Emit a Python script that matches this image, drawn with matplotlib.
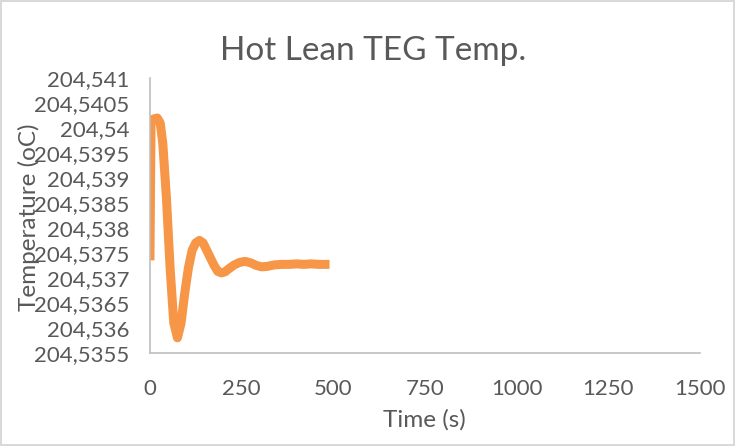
import numpy as np
import matplotlib
matplotlib.use("Agg")
import matplotlib.pyplot as plt
from matplotlib.ticker import FuncFormatter, MultipleLocator

plt.rcParams['font.family'] = ['Lato', 'DejaVu Sans']

# time (s) and temperature (oC)
time_s = [0, 3, 10, 20, 28, 35, 45, 55, 65, 75, 85, 95, 105, 115, 125, 135,
          145, 155, 165, 175, 185, 195, 205, 215, 230, 245, 260, 275, 290,
          305, 320, 340, 360, 380, 400, 420, 440, 460, 480, 490]
temp_c = [204.53735, 204.54010, 204.54018, 204.54020, 204.54010, 204.53970,
          204.53860, 204.53720, 204.53610, 204.53580, 204.53610, 204.53670,
          204.53720, 204.53755, 204.53770, 204.53775, 204.53770, 204.53755,
          204.53740, 204.53725, 204.53713, 204.53710, 204.53712, 204.53718,
          204.53726, 204.53731, 204.53733, 204.53730, 204.53725, 204.53722,
          204.53723, 204.53726, 204.53727, 204.53727, 204.53728, 204.53727,
          204.53728, 204.53727, 204.53727, 204.53727]

title = "Hot Lean TEG Temp."
xlabel = "Time (s)"
ylabel = "Temperature (oC)"

txt = '#595959'
grid_c = '#bfbfbf'

fig = plt.figure(figsize=(7.35, 4.46), dpi=100)
fig.patch.set_edgecolor('#d9d9d9')
fig.patch.set_linewidth(1.5)
ax = fig.add_axes([0.204, 0.209, 0.748, 0.616])

ax.plot(time_s, temp_c, color='#F79646', lw=6.5, solid_capstyle='butt',
        solid_joinstyle='round')

ax.set_xlim(0, 1500)
ax.set_ylim(204.5355, 204.541)
ax.xaxis.set_major_locator(MultipleLocator(250))
ax.yaxis.set_major_locator(MultipleLocator(0.0005))


def comma_fmt(v, pos):
    s = f"{v:.4f}".rstrip('0').rstrip('.')
    return s.replace('.', ',')


ax.yaxis.set_major_formatter(FuncFormatter(comma_fmt))

for side in ['top', 'right']:
    ax.spines[side].set_visible(False)
for side in ['left', 'bottom']:
    ax.spines[side].set_color(grid_c)
    ax.spines[side].set_linewidth(1.2)

ax.tick_params(length=0, labelsize=16, colors=txt)
ax.tick_params(axis='y', pad=15)
ax.tick_params(axis='x', pad=19)

fig.text(0.5075, 0.8655, title, fontsize=24, color=txt,
         ha='center', va='baseline')
ax.set_xlabel(xlabel, fontsize=17.5, color=txt, va='top')
ax.set_ylabel(ylabel, fontsize=17.5, color=txt)
ax.xaxis.set_label_coords(0.5, -0.205)
ax.yaxis.set_label_coords(-0.2, 0.495)

fig.savefig("out.png", dpi=100)
